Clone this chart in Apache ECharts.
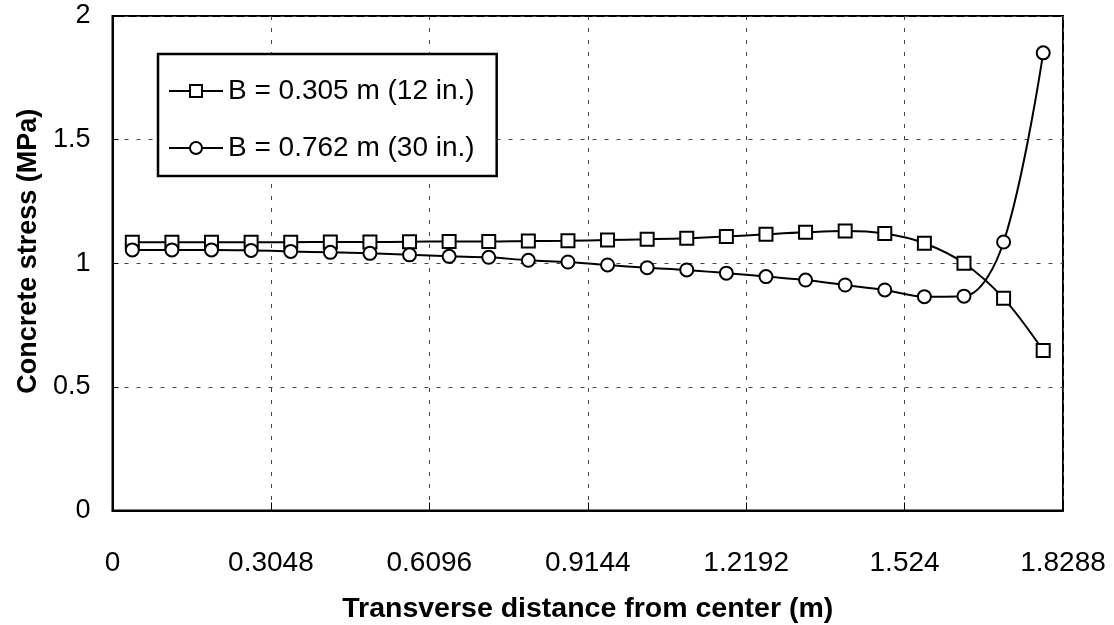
<!DOCTYPE html>
<html>
<head>
<meta charset="utf-8">
<script src="https://cdn.jsdelivr.net/npm/echarts@6/dist/echarts.min.js"></script>
<style>html,body{margin:0;padding:0;background:#fff}#c{width:1114px;height:625px}</style>
</head>
<body>
<div id="c"></div>
<script>
// Transverse distance from center (m)
const xValues = [0.0381, 0.1143, 0.1905, 0.2667, 0.3429, 0.4191, 0.4953, 0.5715, 0.6477, 0.7239, 0.8001, 0.8763,
  0.9525, 1.0287, 1.1049, 1.1811, 1.2573, 1.3335, 1.4097, 1.4859, 1.5621, 1.6383, 1.7145, 1.7907];
// B = 0.305 m (12 in.)
const stressB305 = [1.085, 1.085, 1.085, 1.085, 1.085, 1.086, 1.086, 1.087, 1.088, 1.088, 1.090, 1.091,
  1.094, 1.097, 1.101, 1.108, 1.117, 1.125, 1.130, 1.120, 1.081, 1.000, 0.858, 0.647];
// B = 0.762 m (30 in.)
const stressB762 = [1.054, 1.054, 1.054, 1.052, 1.048, 1.044, 1.040, 1.034, 1.028, 1.024, 1.012, 1.005,
  0.993, 0.982, 0.973, 0.960, 0.946, 0.932, 0.912, 0.892, 0.865, 0.867, 1.086, 1.851];
const seriesNames = ['B = 0.305 m (12 in.)', 'B = 0.762 m (30 in.)'];
const xTickLabels = ['0', '0.3048', '0.6096', '0.9144', '1.2192', '1.524', '1.8288'];
const yTickLabels = ['0', '0.5', '1', '1.5', '2'];

const FONT = 'Liberation Sans, Arial, sans-serif';
const chart = echarts.init(document.getElementById('c'), null, {renderer: 'canvas'});
const pairs = arr => xValues.map((x, i) => [x, arr[i]]);
const grid = {left: 112.5, right: 51, top: 16, bottom: 114.5, outerBoundsMode: 'none', containLabel: false,
  show: true, borderColor: '#000', borderWidth: 2, backgroundColor: 'transparent'};
const dashed = {show: true, lineStyle: {color: '#444', width: 1, type: [4, 8]}};

chart.setOption({
  animation: false,
  backgroundColor: '#fff',
  grid: grid,
  legend: {
    orient: 'vertical', left: 158, top: 54,
    backgroundColor: '#fff',
    borderColor: '#000', borderWidth: 2.5,
    padding: [22, 22, 13, 10],
    itemGap: 27, itemWidth: 54, itemHeight: 15,
    textStyle: {fontFamily: FONT, fontSize: 28, color: '#000', lineHeight: 30},
    data: seriesNames
  },
  xAxis: {
    type: 'value', min: 0, max: 1.8288, interval: 0.3048,
    name: 'Transverse distance from center (m)', nameLocation: 'middle', nameGap: 84,
    nameTextStyle: {fontFamily: FONT, fontSize: 28.5, fontWeight: 'bold', color: '#000'},
    axisLine: {show: true, lineStyle: {color: '#000', width: 2}},
    axisTick: {show: true, inside: true, length: 8, lineStyle: {color: '#000', width: 1}},
    axisLabel: {fontFamily: FONT, fontSize: 28, color: '#000', margin: 39,
      formatter: v => xTickLabels[Math.round(v / 0.3048)]},
    splitLine: dashed
  },
  yAxis: {
    type: 'value', min: 0, max: 2, interval: 0.5,
    name: 'Concrete stress (MPa)', nameLocation: 'middle', nameGap: 60,
    nameTextStyle: {fontFamily: FONT, fontSize: 27, fontWeight: 'bold', color: '#000', padding: [0, 0, 0, 24]},
    axisLine: {show: true, lineStyle: {color: '#000', width: 2}},
    axisTick: {show: true, inside: true, length: 6, lineStyle: {color: '#000', width: 1}},
    axisLabel: {fontFamily: FONT, fontSize: 27, color: '#000', margin: 22,
      formatter: v => yTickLabels[Math.round(v / 0.5)]},
    splitLine: dashed
  },
  series: [
    {
      name: seriesNames[0], type: 'line', data: pairs(stressB305), smooth: 0.35,
      symbol: 'rect', symbolSize: 13,
      lineStyle: {color: '#000', width: 2},
      itemStyle: {color: '#fff', borderColor: '#000', borderWidth: 2},
      z: 3
    },
    {
      name: seriesNames[1], type: 'line', data: pairs(stressB762), smooth: 0.35,
      symbol: 'circle', symbolSize: 13,
      lineStyle: {color: '#000', width: 2},
      itemStyle: {color: '#fff', borderColor: '#000', borderWidth: 2},
      z: 3
    }
  ]
});
</script>
</body>
</html>
